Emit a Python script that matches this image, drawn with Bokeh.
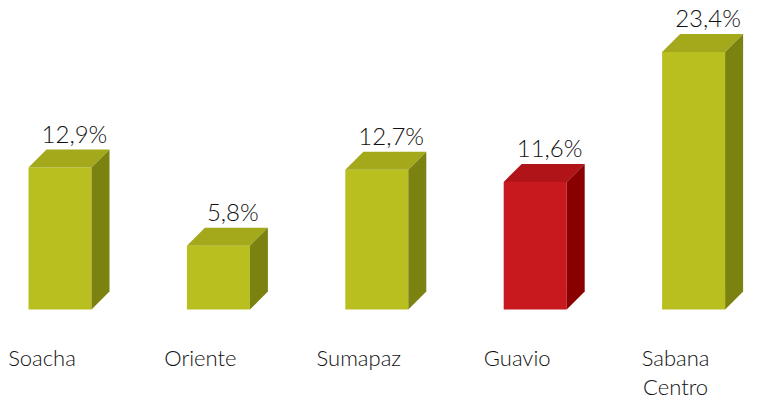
import numpy as np
from bokeh.plotting import figure
from bokeh.models import Range1d, ColumnDataSource
from bokeh.core.properties import value
from bokeh.embed import file_html
from bokeh.resources import INLINE

categories = ["Soacha", "Oriente", "Sumapaz", "Guavio", "Sabana\nCentro"]
values = [12.9, 5.8, 12.7, 11.6, 23.4]
labels = ["12,9%", "5,8%", "12,7%", "11,6%", "23,4%"]
front_colors = ["#b9bf1f", "#b9bf1f", "#b9bf1f", "#c8191f", "#b9bf1f"]
top_colors = ["#a3a91b", "#a3a91b", "#a3a91b", "#b01318", "#a3a91b"]
side_colors = ["#7c8210", "#7c8210", "#7c8210", "#8a0000", "#7c8210"]

W, H = 744, 401
px_per_x = 158.4
px_per_y = 11.0
x0_px = 59.5          # first bar centre, px from figure left
base_px = 92          # baseline, px from figure bottom

p = figure(width=W, height=H, output_backend="svg", toolbar_location=None,
           x_range=Range1d(-x0_px / px_per_x, (W - x0_px) / px_per_x),
           y_range=Range1d(-base_px / px_per_y, (H - base_px) / px_per_y),
           min_border=0)
p.axis.visible = False
p.grid.visible = False
p.outline_line_color = None
p.background_fill_color = "white"

xs = np.arange(len(categories), dtype=float)
v = np.array(values)
w = 63 / px_per_x
dx = 18 / px_per_x
dy = 18 / px_per_y

left = xs - w / 2
right = xs + w / 2

# front faces
p.quad(left=left, right=right, bottom=0, top=v, fill_color=front_colors,
       line_color=None)

# top faces
top_x = [[l, r, r + dx, l + dx] for l, r in zip(left, right)]
top_y = [[t, t, t + dy, t + dy] for t in v]
p.patches(top_x, top_y, fill_color=top_colors, line_color=None)

# side faces
side_x = [[r, r + dx, r + dx, r] for r in right]
side_y = [[0, dy, t + dy, t] for t in v]
p.patches(side_x, side_y, fill_color=side_colors, line_color=None)

# value labels
src = ColumnDataSource(dict(x=xs + dx * 0.8, y=v + dy + 2 / px_per_y, t=labels))
p.text(x="x", y="y", text="t", source=src, text_align="center",
       text_baseline="bottom", text_font=value("Lato Light"),
       text_font_size="24px", text_color="#111111")

# category labels
csrc = ColumnDataSource(dict(x=xs - 18 / px_per_x,
                             y=np.full(len(xs), -34 / px_per_y), t=categories))
p.text(x="x", y="y", text="t", source=csrc, text_align="center",
       text_baseline="top", text_font=value("Lato Light"), text_font_size="22px",
       text_color="#111111", text_line_height=1.1)

open("out.html", "w").write(file_html(p, INLINE))
